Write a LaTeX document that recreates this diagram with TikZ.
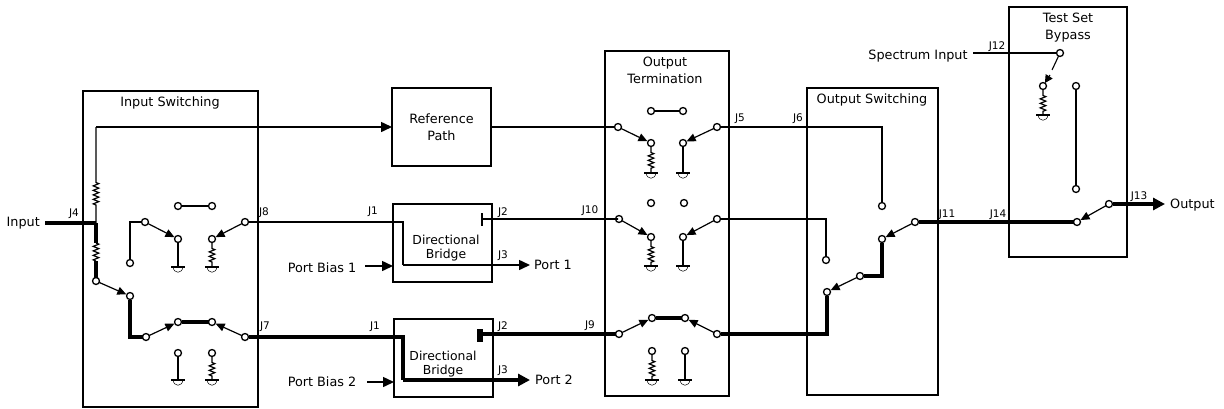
\documentclass[tikz,border=0pt]{standalone}
\usepackage{fontspec}
\setmainfont{DejaVu Sans}
\usetikzlibrary{arrows.meta,decorations.pathmorphing}
\tikzset{
  x=1pt,y=-1pt,
  block/.style={draw,line width=1.3pt,anchor=north west,inner sep=0pt,outer sep=0pt,align=center,font=\fontsize{12.8}{17}\selectfont},
  title/.style={inner sep=0pt,align=center,font=\fontsize{12.8}{17}\selectfont},
  bridgetext/.style={inner sep=0pt,align=center,font=\fontsize{12.4}{14}\selectfont},
  jack/.style={inner sep=0pt,font=\fontsize{10.5}{12}\selectfont},
  term/.style={circle,draw,fill=white,line width=1.3pt,inner sep=0pt,minimum size=7pt,outer sep=0pt},
  thinw/.style={line width=1.4pt},
  thickw/.style={line width=4pt},
  sw/.style={line width=1.2pt,-{Triangle[length=9pt,width=8pt]},shorten >=0.5pt},
  portthin/.style={line width=1.5pt,-{Triangle[length=11pt,width=10pt]}},
  portthick/.style={line width=4pt,-{Triangle[length=12pt,width=12pt]}},
  res/.style={line width=1.2pt,decorate,decoration={zigzag,amplitude=2.8pt,segment length=4.5pt}},
  gnd/.pic={
    \draw[line width=1.5pt] (-7,0) -- (7,0);
    \draw[line width=.5pt] (-5,0) .. controls (-4,7) and (4,7) .. (5,0);
  }
}
\begin{document}
\begin{tikzpicture}
\useasboundingbox (0,0) rectangle (1224,408);
% blocks
\node[block,minimum width=175pt,minimum height=316pt] (inbox) at (83,91) {};
\node[block,minimum width=99pt,minimum height=78pt] (refpath) at (392,88) {Reference\\Path};
\node[block,minimum width=99pt,minimum height=78pt] (br1) at (393,204) {};
\node[block,minimum width=99pt,minimum height=78pt] (br2) at (394,319) {};
\node[block,minimum width=124pt,minimum height=345pt] (outterm) at (605,51) {};
\node[block,minimum width=131pt,minimum height=307pt] (outsw) at (807,88) {};
\node[block,minimum width=118pt,minimum height=250pt] (bypass) at (1009,7) {};
% titles
\node[title] (t1) at (170,103) {Input Switching};
\node[bridgetext] (t2) at (446,248) {Directional\\Bridge};
\node[bridgetext] (t3) at (443,364) {Directional\\Bridge};
\node[title] (t4) at (665,70) {Output\\Termination};
\node[title] (t5) at (872,100) {Output Switching};
\node[title] (t6) at (1068,28) {Test Set\\Bypass};
% outer labels
\node[title,anchor=east] (input) at (40,223) {Input};
\node[title] (pb1) at (322,268) {Port Bias 1};
\node[title] (pb2) at (322,382) {Port Bias 2};
\node[title,anchor=west] (port1) at (534,265) {Port 1};
\node[title,anchor=west] (port2) at (535,380) {Port 2};
\node[title] (spec) at (918,56) {Spectrum Input};
\node[title,anchor=west] (output) at (1170,205) {Output};
% jack labels
\foreach \n/\x/\y/\t in {a/74/214/J4,b/264/213/J8,c/265/327/J7,d/373/212/J1,e/503/213/J2,f/503/256/J3,g/590/211/J10,h/375/327/J1,i/503/327/J2,j/503/371/J3,k/590/326/J9,l/740/119/J5,m/798/119/J6,n/947/215/J11,o/998/215/J14,p/997/47/J12,q/1139/197/J13}
  \node[jack] (lab\n) at (\x,\y) {\t};
% terminals
\foreach \n/\x/\y in {
  ia/178/206,ib/212/206,ic/145/222,id/130/263,ie/178/239,if/212/239,ig/245/222,
  ih/96/281,ii/130/296,ij/146/337,ik/178/322,il/212/322,im/245/337,in/178/353,io/212/353,
  ta/651/111,tb/683/111,tc/618/127,td/651/143,te/683/143,tf/717/127,
  tg/651/203,th/684/203,ti/619/219,tj/651/237,tk/683/237,tl/717/219,
  tm/619/334,tn/652/318,to/685/318,tp/717/334,tq/652/351,tr/685/351,
  sa/882/206,sb/826/260,sc/827/292,sd/860/276,se/882/239,sf/915/222,
  ba/1060/53,bb/1043/86,bc/1076/86,bd/1076/189,be/1077/222,bf/1109/204}
  \node[term] (\n) at (\x,\y) {};
% coordinates
\coordinate (inst) at (45,223);
\coordinate (tap) at (96,223);
\coordinate (top) at (96,127);
\coordinate (r1a) at (96,243);
\coordinate (r1b) at (96,261);
\coordinate (c1) at (130,222);
\coordinate (c2) at (130,337);
\coordinate (b1a) at (403,222);
\coordinate (b1b) at (403,265);
\coordinate (b1e) at (530,265);
\coordinate (b2a) at (403,337);
\coordinate (b2b) at (403,380);
\coordinate (b2e) at (530,380);
\coordinate (b1j) at (482,219);
\coordinate (b1u) at (482,213);
\coordinate (b1d) at (482,226);
\coordinate (b2j) at (480,334);
\coordinate (b2u) at (480,329);
\coordinate (b2d) at (480,342);
\coordinate (pi1) at (365,266);
\coordinate (pi2) at (367,382);
\coordinate (p1t) at (393,266);
\coordinate (p2t) at (394,382);
\coordinate (oc1) at (882,127);
\coordinate (oc2) at (826,219);
\coordinate (oc3) at (827,334);
\coordinate (oc4) at (882,276);
\coordinate (bstop) at (1052,70);
\coordinate (bsa) at (1050,75);
\coordinate (otip) at (1165,204);
\coordinate (spst) at (973,53);
\coordinate (g1) at (178,267);
\coordinate (g2) at (212,267);
\coordinate (g3) at (178,380);
\coordinate (g4) at (212,380);
\coordinate (g5) at (651,173);
\coordinate (g6) at (683,173);
\coordinate (g7) at (651,266);
\coordinate (g8) at (683,266);
\coordinate (g9) at (652,380);
\coordinate (g10) at (685,380);
\coordinate (g11) at (1043,115);
% input wiring
\draw[thickw] (inst) -- (tap);
\draw[thickw] (tap) -- (r1a);
\draw[res] (r1a) -- (r1b);
\draw[thickw] (r1b) -- (ih);
\draw[res,decoration={pre length=18pt,post length=55pt}] (tap) -- (top);
\draw[portthin] (top) -- (refpath.west);
\draw[thinw] (ia) -- (ib);
\draw[thinw] (ic) -- (c1) -- (id);
\draw[sw] (ic) -- (ie);
\draw[sw] (ig) -- (if);
\draw[thinw] (ie) -- (g1);
\draw[res,decoration={pre length=6pt,post length=3pt}] (if) -- (g2);
\draw[sw] (ih) -- (ii);
\draw[thickw] (ii) -- (c2) -- (ij);
\draw[sw] (ij) -- (ik);
\draw[thickw] (ik) -- (il);
\draw[sw] (im) -- (il);
\draw[thinw] (in) -- (g3);
\draw[res,decoration={pre length=6pt,post length=3pt}] (io) -- (g4);
% bridge 1
\draw[thinw] (ig) -- (b1a) -- (b1b);
\draw[portthin] (b1b) -- (b1e);
\draw[thinw] (b1u) -- (b1d);
\draw[thinw] (b1j) -- (tc |- b1j) -- (ti);
\draw[portthin] (pi1) -- (p1t);
% bridge 2
\draw[thickw] (im) -- (b2a) -- (b2b);
\draw[portthick] (b2b) -- (b2e);
\draw[line width=5.5pt] (b2u) -- (b2d);
\draw[thickw] (b2j) -- (tm);
\draw[portthin] (pi2) -- (p2t);
% reference path out
\draw[thinw] (refpath.east) -- (tc);
% output termination
\draw[thinw] (ta) -- (tb);
\draw[sw] (tc) -- (td);
\draw[sw] (tf) -- (te);
\draw[res,decoration={pre length=6pt,post length=3pt}] (td) -- (g5);
\draw[thinw] (te) -- (g6);
\draw[sw] (ti) -- (tj);
\draw[sw] (tl) -- (tk);
\draw[res,decoration={pre length=6pt,post length=3pt}] (tj) -- (g7);
\draw[thinw] (tk) -- (g8);
\draw[sw] (tm) -- (tn);
\draw[thickw] (tn) -- (to);
\draw[sw] (tp) -- (to);
\draw[res,decoration={pre length=6pt,post length=3pt}] (tq) -- (g9);
\draw[thinw] (tr) -- (g10);
% output switching
\draw[thinw] (tf) -- (oc1) -- (sa);
\draw[thinw] (tl) -- (oc2) -- (sb);
\draw[thickw] (tp) -- (oc3) -- (sc);
\draw[sw] (sd) -- (sc);
\draw[thickw] (sd) -- (oc4) -- (se);
\draw[sw] (sf) -- (se);
\draw[thickw] (sf) -- (be);
% bypass
\draw[thinw] (spst) -- (ba);
\draw[line width=1.1pt] (ba) -- (bstop);
\draw[line width=1.1pt,-{Triangle[length=8pt,width=8pt]}] (bsa) -- (bb);
\draw[res,decoration={pre length=6pt,post length=3pt}] (bb) -- (g11);
\draw[thinw] (bc) -- (bd);
\draw[sw] (bf) -- (be);
\draw[portthick] (bf) -- (otip);
% grounds
\foreach \g in {g1,g2,g3,g4,g5,g6,g7,g8,g9,g10,g11}
  \pic at (\g) {gnd};
\end{tikzpicture}
\end{document}
